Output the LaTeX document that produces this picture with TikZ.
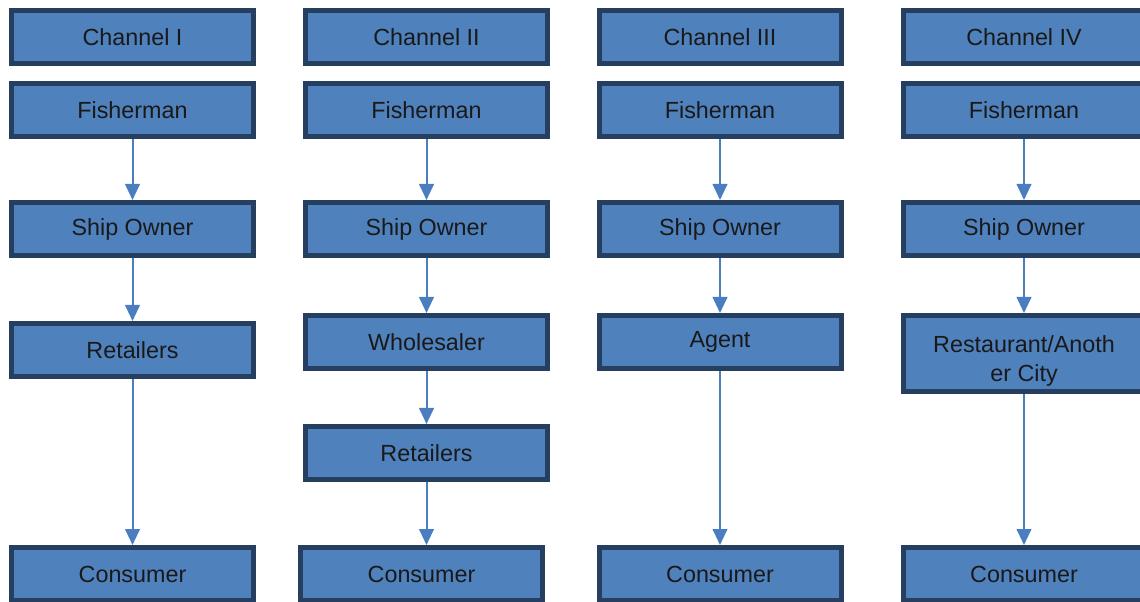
\documentclass[tikz,border=0pt]{standalone}
\usepackage{fontspec}
\setmainfont{Liberation Sans}
\usetikzlibrary{positioning,arrows.meta}
\definecolor{boxfill}{RGB}{79,129,189}
\definecolor{boxline}{RGB}{38,62,96}
\definecolor{arrowblue}{RGB}{74,126,193}
\begin{document}
\begin{tikzpicture}[%
		x=0.75pt, y=-0.75pt,
		->,
		>={Triangle[width=11pt,length=12pt]},
		node distance=45.75pt,
		stage/.style={%
			minimum width=181.5pt,
			minimum height=39.75pt,
			fill=boxfill,
			draw=boxline,
			line width=3.75pt,
			text=black!90,
			align=center,
			font=\fontsize{17.5}{21.5}\selectfont
		},
		flow/.style={%
			draw=arrowblue,
			line width=1.5pt
		}
		]
		\useasboundingbox (0,0) rectangle (1140,602);
		
		% Channel I
		\node[stage] (ch1) at (132.5,37)                            {Channel I};
		\node[stage] (fish1) [below=11.25pt of ch1]                 {Fisherman};
		\node[stage] (ship1) [below=of fish1]                       {Ship Owner};
		\node[stage] (ret1) [below=47.25pt of ship1]                {Retailers};
		\node[stage] (cons1) at (132.5,574)                         {Consumer};
		
		% Channel II
		\node[stage] (ch2) at (426.5,37)                            {Channel II};
		\node[stage] (fish2) [below=11.25pt of ch2]                 {Fisherman};
		\node[stage] (ship2) [below=of fish2]                       {Ship Owner};
		\node[stage] (whole2) [below=41.25pt of ship2]              {Wholesaler};
		\node[stage] (ret2) [below=39.75pt of whole2]               {Retailers};
		\node[stage] (cons2) at (421.5,574)                         {Consumer};
		
		% Channel III
		\node[stage] (ch3) at (720,37)                              {Channel III};
		\node[stage] (fish3) [below=11.25pt of ch3]                 {Fisherman};
		\node[stage] (ship3) [below=of fish3]                       {Ship Owner};
		\node[stage] (agent3) [below=41.25pt of ship3]              {Agent};
		\node[stage] (cons3) at (720,574)                           {Consumer};
		
		% Channel IV
		\node[stage] (ch4) at (1024,37)                             {Channel IV};
		\node[stage] (fish4) [below=11.25pt of ch4]                 {Fisherman};
		\node[stage] (ship4) [below=of fish4]                       {Ship Owner};
		\node[stage, minimum height=57pt] (rest4) [below=41.25pt of ship4] {\rule{0pt}{23.5pt}Restaurant/Anoth\\er City};
		\node[stage] (cons4) at (1024,574)                          {Consumer};
		
		\path (fish1) edge[flow]                                    (ship1)
		(ship1) edge[flow]                                          (ret1)
		(ret1) edge[flow]                                           (cons1);
		
		\path (fish2) edge[flow]                                    (ship2)
		(ship2) edge[flow]                                          (whole2)
		(whole2) edge[flow]                                         (ret2)
		(ret2) edge[flow]                                           (ret2 |- cons2.north);
		
		\path (fish3) edge[flow]                                    (ship3)
		(ship3) edge[flow]                                          (agent3)
		(agent3) edge[flow]                                         (cons3);
		
		\path (fish4) edge[flow]                                    (ship4)
		(ship4) edge[flow]                                          (rest4)
		(rest4) edge[flow]                                          (cons4);
\end{tikzpicture}
\end{document}
